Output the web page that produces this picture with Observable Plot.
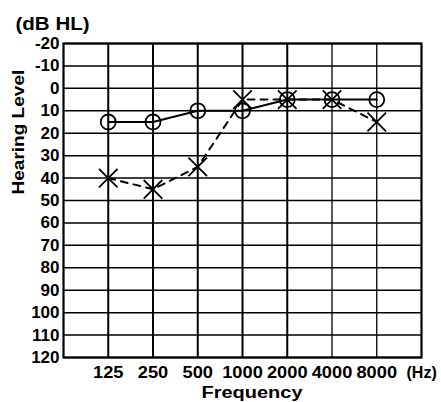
<!DOCTYPE html>
<html><head><meta charset="utf-8">
<script src="https://cdn.jsdelivr.net/npm/d3@7"></script>
<script src="https://cdn.jsdelivr.net/npm/@observablehq/plot@0.6"></script>
<style>
body{margin:0;background:#fff}
svg{font-family:"Liberation Sans",Arial,sans-serif}
</style>
</head><body><div id="chart"></div>
<script>
const frequencies = [125, 250, 500, 1000, 2000, 4000, 8000];
const freqLabels = ["125", "250", "500", "1000", "2000", "4000", "8000"];
const rightEar = [15, 15, 10, 10, 5, 5, 5];   // circles, solid line
const leftEar = [40, 45, 35, 5, 5, 5, 15];    // crosses, dashed line
const levelTicks = [-20, -10, 0, 10, 20, 30, 40, 50, 60, 70, 80, 90, 100, 110, 120];
const thickFreqs = [125, 250, 500, 1000, 2000];
const thinFreqs = [4000, 8000];

const right = frequencies.map((f, i) => ({f, v: rightEar[i]}));
const left = frequencies.map((f, i) => ({f, v: leftEar[i]}));
const xLabels = frequencies.map((f, i) => ({f, t: freqLabels[i]}));

const bold = {fontWeight: "bold", fill: "black"};

const chart = Plot.plot({
  width: 441,
  height: 402,
  marginLeft: 63,
  marginRight: 20,
  marginTop: 43,
  marginBottom: 45,
  style: {background: "white", overflow: "visible"},
  x: {type: "log", base: 2, domain: [62.5, 16000], axis: null},
  y: {domain: [-20, 120], reverse: true, axis: null},
  marks: [
    Plot.ruleY(levelTicks, {y: d => d, stroke: "black", strokeWidth: 1.5}),
    Plot.ruleX(thickFreqs, {x: d => d, stroke: "black", strokeWidth: 2}),
    Plot.ruleX(thinFreqs, {x: d => d, stroke: "black", strokeWidth: 1.3}),
    Plot.frame({stroke: "black", strokeWidth: 2.2}),
    Plot.line(left, {x: "f", y: "v", stroke: "black", strokeWidth: 2, strokeDasharray: "7,6"}),
    Plot.line(right, {x: "f", y: "v", stroke: "black", strokeWidth: 2}),
    Plot.dot(right, {x: "f", y: "v", r: 7.5, stroke: "black", strokeWidth: 1.8, fill: "none"}),
    Plot.dot(left, {x: "f", y: "v", symbol: "times", r: 8.5, stroke: "black", strokeWidth: 1.8}),
    Plot.text(levelTicks, {x: 62.5, y: d => d, text: d => String(d), textAnchor: "end", dx: -4, fontSize: 17, letterSpacing: "-0.6px", ...bold}),
    Plot.text(xLabels, {x: "f", y: 120, text: "t", dy: 15, fontSize: 16.3, letterSpacing: "-0.2px", ...bold}),
    Plot.text(["(Hz)"], {x: 16000, y: 120, text: d => d, dy: 15, dx: -15, textAnchor: "start", fontSize: 16, ...bold}),
    Plot.text(["Frequency"], {frameAnchor: "bottom", lineAnchor: "middle", dx: 9.5, dy: 35, fontSize: 16, ...bold}),
    Plot.text(["Hearing Level"], {frameAnchor: "left", lineAnchor: "middle", dx: -44.5, dy: -6, rotate: -90, fontSize: 17, ...bold}),
    Plot.text(["(dB HL)"], {frameAnchor: "top-left", lineAnchor: "middle", dx: -48, dy: -19, textAnchor: "start", fontSize: 18, ...bold})
  ]
});

// horizontally widen the lettering to match the scanned typeface
const widenBy = new Map([...freqLabels.map(t => [t, 1.12]), ["Frequency", 1.25], ["Hearing Level", 1.12], ["(dB HL)", 1.14]]);
d3.select(chart).selectAll("text").each(function() {
  const t = d3.select(this);
  const s = widenBy.get(this.textContent);
  if (!s) return;
  const tr = t.attr("transform");
  if (tr) {
    t.attr("transform", tr + ` scale(${s},1)`);
  } else {
    const x = +t.attr("x") || 0, y = +t.attr("y") || 0;
    t.attr("x", null).attr("y", null).attr("transform", `translate(${x},${y}) scale(${s},1)`);
  }
});

document.getElementById("chart").appendChild(chart);
</script>
</body></html>
